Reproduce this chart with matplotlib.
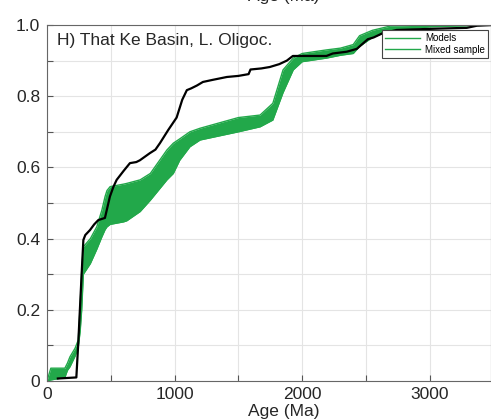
import matplotlib
matplotlib.use("Agg")
import matplotlib.pyplot as plt
import numpy as np

### DATA ######################################################################

# Envelope of the model CDFs (green band)
model_age = [0, 30, 140, 160, 180, 220, 245, 260, 272, 285, 340, 390, 430, 455,
             470, 495, 600, 625, 730, 810, 940, 990, 1040, 1120, 1200, 1500,
             1670, 1770, 1850, 1930, 2000, 2190, 2300, 2400, 2450, 2550, 2690,
             3000, 3500]
model_upper = [0.0, 0.036, 0.036, 0.05, 0.068, 0.092, 0.115, 0.21, 0.31, 0.377,
               0.40, 0.433, 0.48, 0.518, 0.535, 0.546, 0.553, 0.555, 0.565,
               0.583, 0.649, 0.668, 0.68, 0.70, 0.71, 0.74, 0.747, 0.78, 0.874,
               0.907, 0.92, 0.93, 0.935, 0.945, 0.97, 0.985, 0.997, 1.0, 1.0]
model_lower = [0.0, 0.003, 0.01, 0.03, 0.04, 0.07, 0.096, 0.14, 0.2, 0.30,
               0.33, 0.37, 0.405, 0.425, 0.433, 0.44, 0.447, 0.45, 0.476,
               0.508, 0.565, 0.583, 0.62, 0.658, 0.677, 0.70, 0.714, 0.733,
               0.81, 0.874, 0.897, 0.907, 0.915, 0.92, 0.94, 0.965, 0.985,
               0.995, 1.0]

# Mixed sample CDF (black line)
sample_age = [85, 230, 245, 264, 277, 285, 300, 337, 370, 402, 454, 493, 520,
              546, 600, 650, 700, 728, 806, 850, 885, 950, 1016, 1060, 1096,
              1130, 1175, 1222, 1300, 1410, 1500, 1580, 1595, 1680, 1746, 1820,
              1880, 1927, 2100, 2190, 2240, 2350, 2428, 2514, 2560, 2631, 2740,
              3077, 3290, 3370, 3500]
sample_cdf = [0.007, 0.01, 0.106, 0.246, 0.34, 0.396, 0.41, 0.424, 0.44,
              0.452, 0.458, 0.518, 0.545, 0.565, 0.59, 0.612, 0.615, 0.62,
              0.64, 0.65, 0.668, 0.705, 0.74, 0.79, 0.817, 0.822, 0.83, 0.84,
              0.846, 0.854, 0.857, 0.862, 0.875, 0.878, 0.882, 0.89, 0.9,
              0.913, 0.913, 0.913, 0.92, 0.925, 0.933, 0.96, 0.965, 0.977,
              0.986, 0.99, 0.992, 0.998, 1.0]

panel_title = "H) That Ke Basin, L. Oligoc."
x_ticks = [0, 1000, 2000, 3000]
y_ticks = [0, 0.2, 0.4, 0.6, 0.8, 1.0]
y_tick_labels = ["0", "0.2", "0.4", "0.6", "0.8", "1.0"]

###############################################################################

plt.rcParams['font.family'] = ['Liberation Sans', 'DejaVu Sans']

green = '#22a84a'
W, H = 491, 419

fig = plt.figure(figsize=(W / 100, H / 100), dpi=100)
ax = fig.add_axes([47 / W, 1 - 381 / H, 1 - 47 / W, (381 - 25) / H])

ax.fill_between(model_age, model_lower, model_upper, color=green, lw=0)
ax.plot(model_age, model_upper, color=green, lw=1)
ax.plot(model_age, model_lower, color=green, lw=1)
ax.plot(sample_age, sample_cdf, color='black', lw=1.6)

ax.set_xlim(0, 3480)
ax.set_ylim(0, 1)
ax.set_xticks(x_ticks)
ax.set_xticks([500, 1500, 2500], minor=True)
ax.set_yticks(y_ticks)
ax.set_yticklabels(y_tick_labels)
ax.set_yticks([0.1, 0.3, 0.5, 0.7, 0.9], minor=True)
ax.grid(True, which='both', color='#e4e4e4', lw=0.8)
ax.set_axisbelow(True)
ax.tick_params(which='both', direction='in', length=4, width=0.8,
               colors='#555555', labelcolor='#262626', labelsize=12.5)
ax.tick_params(axis='x', pad=4)
ax.tick_params(axis='y', pad=5)
for s in ax.spines.values():
    s.set_color('#666666')
    s.set_linewidth(0.8)

ax.text((57 - 47) / (W - 47), 1 - 15 / 356, panel_title, transform=ax.transAxes,
        fontsize=12.5, color='#262626', va='center', ha='left')

# legend (both entries drawn green, as in the original)
h1, = ax.plot([], [], color=green, lw=1)
h2, = ax.plot([], [], color=green, lw=1)
leg = ax.legend([h1, h2], ["Models", "Mixed sample"], fontsize=7,
                loc='upper right', bbox_to_anchor=(488 / W, 1 - 30 / H),
                bbox_transform=fig.transFigure, fancybox=False,
                framealpha=1, edgecolor='#444444', handlelength=3.6,
                borderpad=0.3, labelspacing=0.2, handletextpad=0.5,
                borderaxespad=0)
leg.get_frame().set_linewidth(0.8)

fig.text(284 / W, 1 - 416 / H, "Age (Ma)", fontsize=12.5, color='#262626',
         ha='center', va='baseline')
# bottom of the previous panel's axis label, cut off at the top edge
fig.text(284 / W, 1 - 1 / H, "Age (Ma)", fontsize=12.5, color='#262626',
         ha='center', va='baseline')

fig.savefig("out.png", dpi=100)
